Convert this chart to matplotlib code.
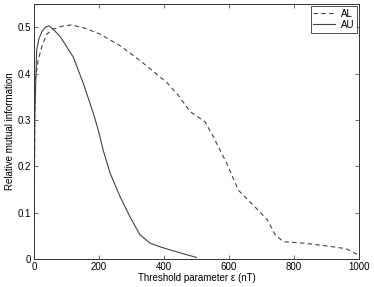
import matplotlib
matplotlib.use("Agg")
import matplotlib.pyplot as plt

# threshold parameter (nT) and relative mutual information
al_x = [0, 3, 13, 25, 39, 60, 85, 116, 160, 203, 265, 326, 408, 445, 480, 526, 552, 593,
        629, 680, 718, 742, 767, 829, 900, 960, 1000]
al_y = [0.0, 0.38, 0.43, 0.46, 0.485, 0.496, 0.502, 0.505, 0.497, 0.485, 0.46, 0.428, 0.381,
        0.352, 0.318, 0.296, 0.263, 0.206, 0.148, 0.112, 0.084, 0.052, 0.037, 0.034,
        0.028, 0.022, 0.008]

au_x = [0, 2, 8, 15, 24, 35, 46, 60, 80, 95, 121, 152, 183, 198, 213, 234, 265, 295, 326,
        357, 388, 420, 460, 500]
au_y = [0.0, 0.3, 0.45, 0.475, 0.49, 0.5, 0.503, 0.495, 0.48, 0.464, 0.435, 0.378, 0.313,
        0.277, 0.234, 0.185, 0.134, 0.091, 0.052, 0.034, 0.026, 0.019, 0.011, 0.003]

plt.rcParams["font.family"] = ["Liberation Sans", "DejaVu Sans"]

fig = plt.figure(figsize=(3.74, 2.87), dpi=100)
ax = fig.add_axes([0.091, 0.098, 0.869, 0.888])

ax.plot(al_x, al_y, color="#444444", linestyle=(0, (4, 3)), linewidth=0.8, label="AL")
ax.plot(au_x, au_y, color="#444444", linestyle="-", linewidth=0.8, label="AU")

ax.set_xlim(0, 1000)
ax.set_ylim(0, 0.55)
ax.set_xticks([0, 200, 400, 600, 800, 1000])
ax.set_yticks([0, 0.1, 0.2, 0.3, 0.4, 0.5])
ax.set_yticklabels(["0", "0.1", "0.2", "0.3", "0.4", "0.5"])
ax.tick_params(direction="in", top=True, right=True, labelsize=7, length=3,
               width=0.6, color="#555555", pad=2)
for s in ax.spines.values():
    s.set_linewidth(0.7)
    s.set_color("#333333")

ax.set_xlabel("Threshold parameter ε (nT)", fontsize=7, labelpad=1)
ax.set_ylabel("Relative mutual information", fontsize=7, labelpad=2)

leg = ax.legend(loc="upper right", fontsize=7, frameon=True, fancybox=False,
                handlelength=2.2, borderpad=0.3, labelspacing=0.1,
                borderaxespad=0.2, handletextpad=0.6)
leg.get_frame().set_edgecolor("#222222")
leg.get_frame().set_linewidth(0.7)

fig.savefig("out.png", dpi=100)
